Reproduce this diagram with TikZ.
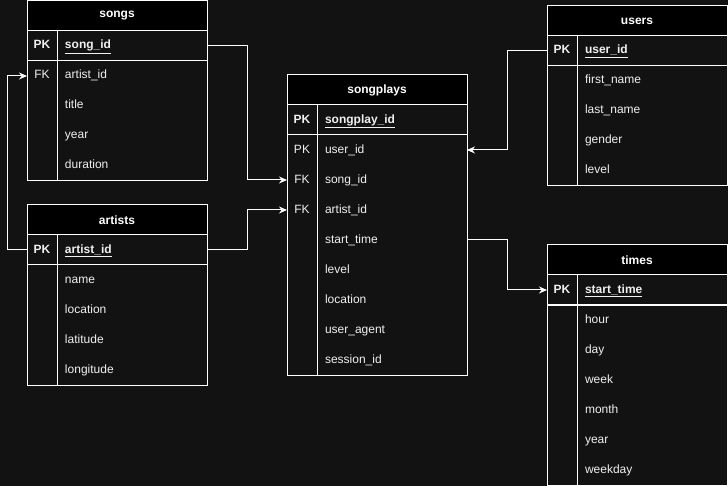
\documentclass[tikz,border=0pt]{standalone}
\usepackage{fontspec}
\setmainfont{Liberation Sans}
\usepackage{xcolor}
\usepackage{tikz}
\usetikzlibrary{matrix}
\usetikzlibrary{positioning}
\usetikzlibrary{arrows.meta}

\definecolor{canvas}{HTML}{121212}
\definecolor{ink}{HTML}{F0F0F0}

\tikzset{
	cell/.style={inner sep=0pt,outer sep=0pt,minimum height=30pt,text height=9pt,text depth=3pt,text=ink},
	table/.style={matrix of nodes,nodes in empty cells,row sep=0pt,column sep=0pt,inner sep=0pt,outer sep=0pt,anchor=north west,nodes={cell},
		column 1/.style={nodes={minimum width=30pt}},
		column 2/.style={nodes={text width=134pt,inner xsep=8pt,align=left}}},
	head/.style={draw=white,line width=1pt,fill=black,text=white,font=\fontsize{12}{14}\selectfont\bfseries,minimum width=180pt,minimum height=30pt,inner sep=0pt,outer sep=0pt},
	grid/.style={draw=white,line width=1pt},
	link/.style={draw=white,line width=1pt,-{Stealth[length=8pt,width=7pt]}}
}

% outline, key column and PK separator of one table
\newcommand\tableframe[1]{%
	\draw[grid] (#1.north west) rectangle (#1.south east);
	\draw[grid] (#1-1-1.north east) -- (#1-1-1.north east |- #1.south);
	\draw[grid] (#1-1-1.south west) -- (#1-1-2.south east);
}

\begin{document}
\begin{tikzpicture}[x=1pt,y=-1pt,font=\fontsize{12}{14}\selectfont]
	\fill[canvas] (0,0) rectangle (728,486);
	\useasboundingbox (0,0) rectangle (728,486);
	
	\matrix[table] (songs) at (27,31) {
		\textbf{PK} & \textbf{\underline{song\_id}}\\
		FK & artist\_id\\
		& title\\
		& year\\
		& duration\\
	};
	\node[head,above=0pt of songs] (songs head) {songs};
	\tableframe{songs}
	
	\matrix[table] (artists) at (27,235) {
		\textbf{PK} & \textbf{\underline{artist\_id}}\\
		& name\\
		& location\\
		& latitude\\
		& longitude\\
	};
	\node[head,above=0pt of artists] (artists head) {artists};
	\tableframe{artists}
	
	\matrix[table] (songplays) at (287,105) {
		\textbf{PK} & \textbf{\underline{songplay\_id}}\\
		PK & user\_id\\
		FK & song\_id\\
		FK & artist\_id\\
		& start\_time\\
		& level\\
		& location\\
		& user\_agent\\
		& session\_id\\
	};
	\node[head,above=0pt of songplays] (songplays head) {songplays};
	\tableframe{songplays}
	
	\matrix[table] (users) at (547,36) {
		\textbf{PK} & \textbf{\underline{user\_id}}\\
		& first\_name\\
		& last\_name\\
		& gender\\
		& level\\
	};
	\node[head,above=0pt of users] (users head) {users};
	\tableframe{users}
	
	\matrix[table] (times) at (547,275) {
		\textbf{PK} & \textbf{\underline{start\_time}}\\
		& hour\\
		& day\\
		& week\\
		& month\\
		& year\\
		& weekday\\
	};
	\node[head,above=0pt of times] (times head) {times};
	\tableframe{times}
	
	% relations
	\draw[link] (songs-1-2.east) -- ++(40,0) |- (songplays-3-1.west);
	\draw[link] (artists-1-2.east) -- ++(40,0) |- (songplays-4-1.west);
	\draw[link] (artists-1-1.west) -- ++(-20,0) |- (songs-2-1.west);
	\draw[link] (users-1-1.west) -- ++(-40,0) |- (songplays-2-2.east);
	\draw[link] (songplays-5-2.east) -- ++(40,0) |- (times-1-1.west);
	
\end{tikzpicture}
\end{document}
